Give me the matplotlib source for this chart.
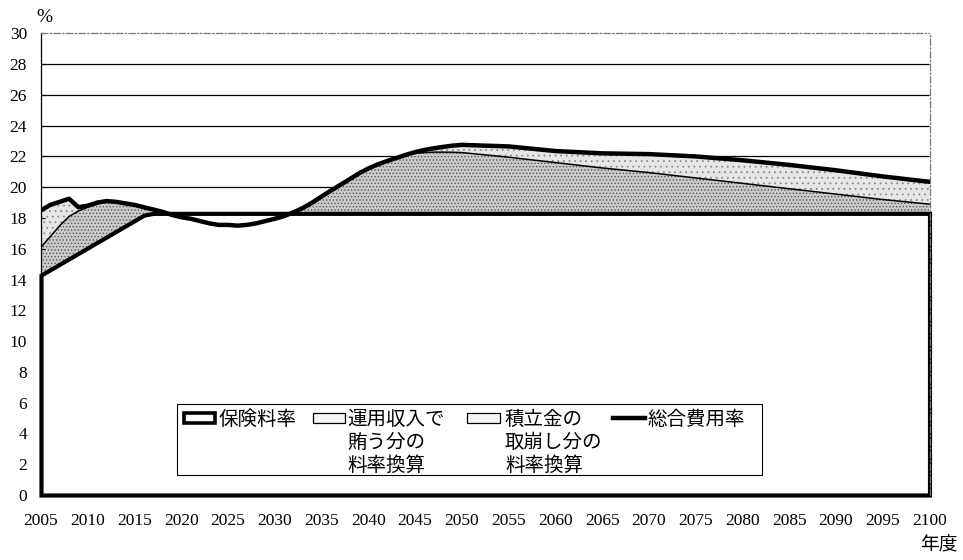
import numpy as np
import matplotlib
matplotlib.use("Agg")
import matplotlib.pyplot as plt
from matplotlib.patches import Rectangle
from matplotlib.lines import Line2D

plt.rcParams['font.family'] = ['Noto Sans CJK JP', 'DejaVu Sans']
plt.rcParams['hatch.linewidth'] = 0.6

# 年度
years = list(range(2005, 2051)) + [2055, 2060, 2065, 2070, 2075, 2080, 2085, 2090, 2095, 2100]

# 保険料率 (2017年度まで毎年0.354%引上げ、以後18.3%)
premium = [14.288, 14.642, 14.996, 15.350, 15.704, 16.058, 16.412, 16.766, 17.120,
           17.474, 17.828, 18.182] + [18.3] * 44

# 保険料率 + 運用収入で賄う分
invest_top = [16.1, 16.8, 17.5, 18.1, 18.45, 18.7, 18.9, 19.1, 19.05, 18.95,
              18.85, 18.7, 18.55, 18.4, 18.2, 18.05, 17.95, 17.8, 17.65, 17.55,
              17.55, 17.5, 17.55, 17.65, 17.8, 17.95, 18.12, 18.37, 18.65, 19.0,
              19.4, 19.78, 20.15, 20.52, 20.9, 21.22, 21.48, 21.7, 21.9, 22.1,
              22.2, 22.25, 22.28, 22.28, 22.27, 22.25,
              21.95, 21.6, 21.25, 20.95, 20.6, 20.25, 19.9, 19.55, 19.2, 18.9]

# 総合費用率
total = [18.5, 18.85, 19.05, 19.25, 18.7, 18.8, 19.0, 19.1, 19.05, 18.95,
         18.85, 18.7, 18.55, 18.4, 18.2, 18.05, 17.95, 17.8, 17.65, 17.55,
         17.55, 17.5, 17.55, 17.65, 17.8, 17.95, 18.12, 18.37, 18.65, 19.0,
         19.4, 19.78, 20.15, 20.52, 20.9, 21.22, 21.48, 21.7, 21.9, 22.1,
         22.28, 22.42, 22.53, 22.62, 22.7, 22.75,
         22.65, 22.35, 22.2, 22.15, 22.0, 21.75, 21.45, 21.1, 20.7, 20.35]

x_ticks = list(range(2005, 2101, 5))
y_ticks = list(range(0, 31, 2))
grid_levels = list(range(2, 30, 2))

labels = ['保険料率', '運用収入で\n賄う分の\n料率換算', '積立金の\n取崩し分の\n料率換算', '総合費用率']

yr = np.array(years, dtype=float)
prem = np.array(premium)
inv = np.array(invest_top)
tot = np.array(total)

W, H = 963, 560
fig = plt.figure(figsize=(W / 100, H / 100), dpi=100)
ax = fig.add_axes([41 / W, 1 - 495 / H, 888.5 / W, (495 - 33.3) / H])

ax.hlines(grid_levels, 2005, 2100, colors='black', linewidth=0.9, zorder=0.5)

# 運用収入で賄う分 (濃い砂目)
ax.fill_between(yr, prem, inv, where=inv > prem, interpolate=True,
                facecolor='#cbcbcb', linewidth=0, zorder=1)
ax.fill_between(yr, prem, inv, where=inv > prem, interpolate=True,
                facecolor='none', edgecolor='#555555', hatch='.....', linewidth=0, zorder=1.1)
# 積立金の取崩し分 (薄い砂目)
ax.fill_between(yr, inv, tot, where=tot > inv, interpolate=True,
                facecolor='#e6e6e6', linewidth=0, zorder=1)
ax.fill_between(yr, inv, tot, where=tot > inv, interpolate=True,
                facecolor='none', edgecolor='#8a8a8a', hatch='...', linewidth=0, zorder=1.1)

ax.plot(yr, np.maximum(inv, prem), color='black', linewidth=1.1, zorder=1.8)

prem_area = ax.fill_between(yr, 0, prem, facecolor='white', edgecolor='black',
                            linewidth=3.0, zorder=2)
prem_area.set_clip_on(False)
prem_area.set_joinstyle('miter')

ax.plot(yr, tot, color='black', linewidth=3.2, zorder=5, solid_joinstyle='round')

ax.set_xlim(2005, 2100)
ax.set_ylim(0, 30)
ax.set_xticks(x_ticks)
ax.set_yticks(y_ticks)
ax.tick_params(axis='both', direction='in', length=3, width=0.8, color='black')
ax.tick_params(axis='x', pad=13)
ax.tick_params(axis='y', pad=10)
for lab in ax.get_xticklabels() + ax.get_yticklabels():
    lab.set_family('Liberation Serif')
    lab.set_fontsize(12.5)

ax.spines['left'].set_linewidth(0.9)
ax.spines['bottom'].set_linewidth(0.9)
for side in ('top', 'right'):
    ax.spines[side].set_color('#777777')
    ax.spines[side].set_linewidth(0.9)
    ax.spines[side].set_linestyle((0, (5, 2, 1, 2)))

fig.text(44 / W, 1 - 17 / H, '%', family='Liberation Serif', fontsize=14,
         ha='center', va='center')
fig.text(939 / W, 1 - 545 / H, '年度', fontsize=13.5, ha='center', va='center')

# 凡例 (手書き配置)
def fp(x, y):
    return (x / W, 1 - y / H)

tf = fig.transFigure
fig.add_artist(Rectangle(fp(177, 475), 585 / W, 71 / H, transform=tf,
                         facecolor='white', edgecolor='black', linewidth=0.8, zorder=6))
fig.add_artist(Rectangle(fp(184, 423), 31 / W, 10 / H, transform=tf,
                         facecolor='white', edgecolor='black', linewidth=2.6, zorder=7))
fig.add_artist(Rectangle(fp(313, 423), 32 / W, 10 / H, transform=tf,
                         facecolor='#f6f6f6', edgecolor='black', linewidth=0.9, zorder=7))
fig.add_artist(Rectangle(fp(467, 423), 33 / W, 10 / H, transform=tf,
                         facecolor='#f6f6f6', edgecolor='black', linewidth=0.9, zorder=7))
fig.add_artist(Line2D([613 / W, 645 / W], [1 - 418 / H, 1 - 418 / H], transform=tf,
                      color='black', linewidth=3.2, zorder=7))

text_x = [219, 347, 505, 648]
for x0, lab in zip(text_x, labels):
    for i, line in enumerate(lab.split('\n')):
        fig.text(*fp(x0, 425 + 23 * i), line, fontsize=14, ha='left', va='baseline', zorder=8)

fig.savefig('out.png', dpi=100)
